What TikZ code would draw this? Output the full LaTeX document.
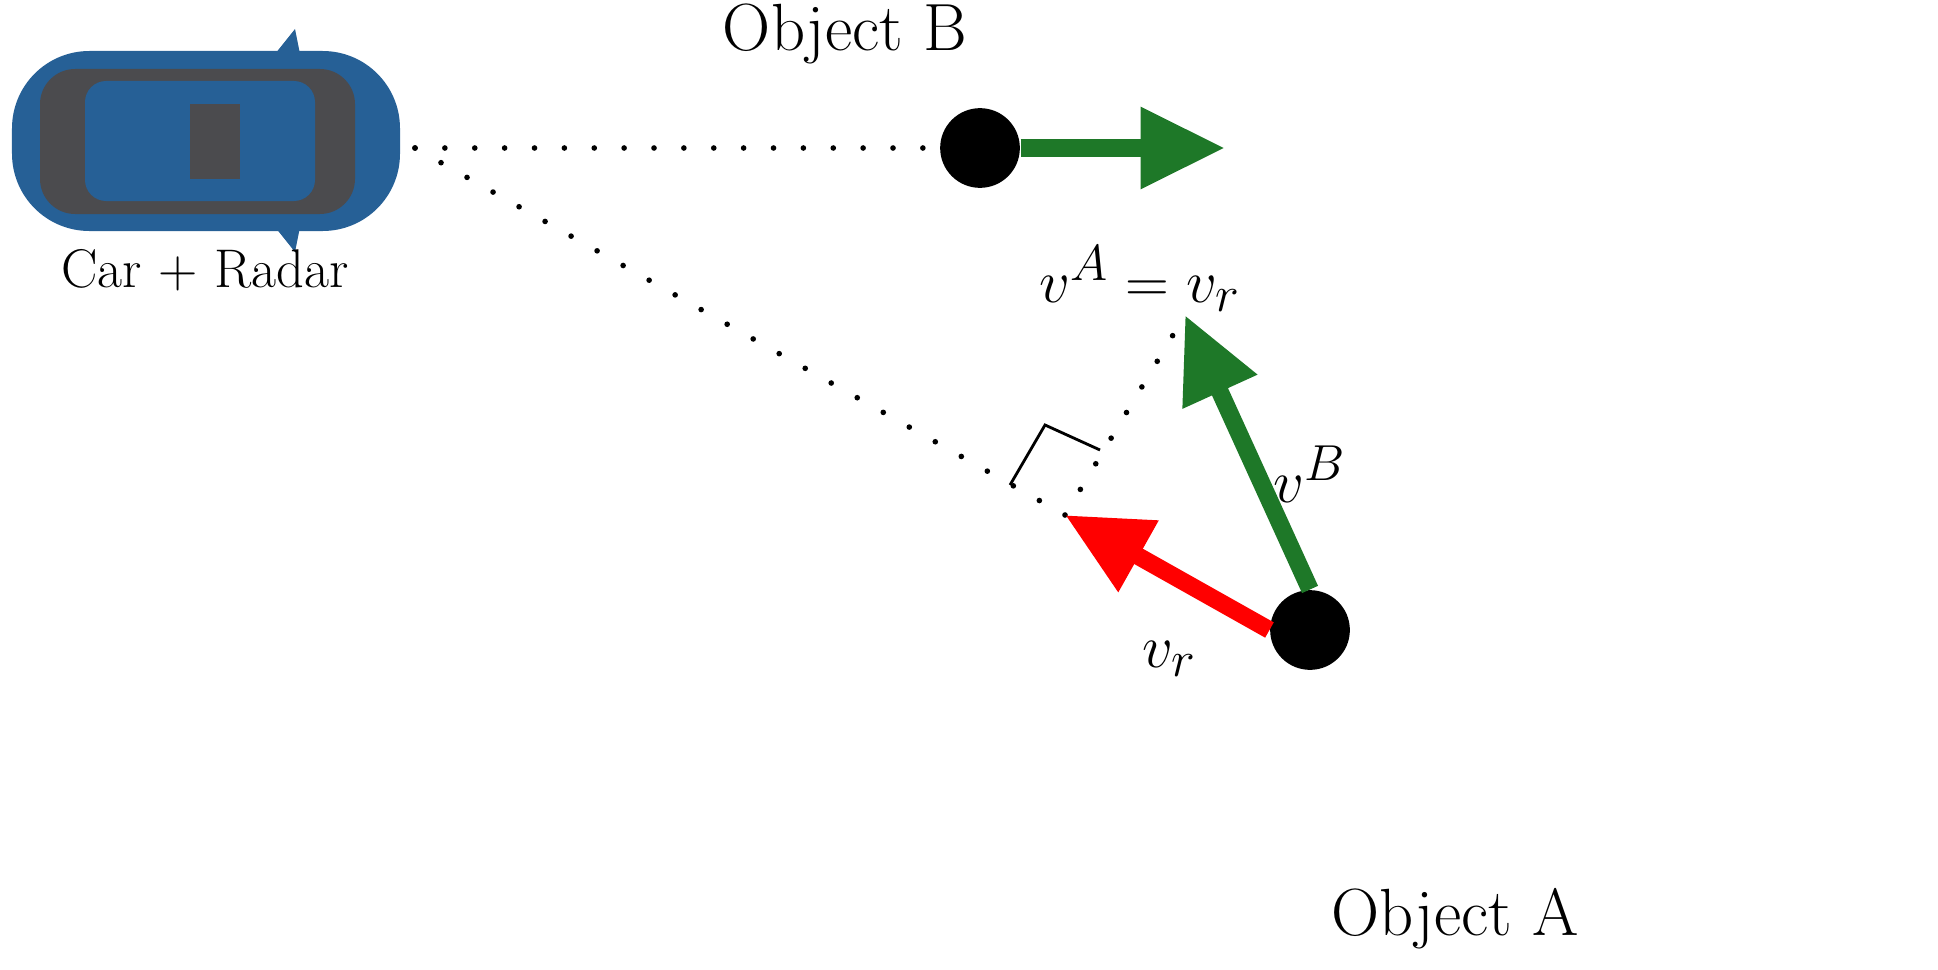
\documentclass[tikz,border=0pt]{standalone}
\usepackage{tikz}
\usetikzlibrary{positioning,arrows.meta}
\definecolor{carblue}{RGB}{38,96,150}
\definecolor{cargrey}{RGB}{75,75,78}
\definecolor{vgreen}{RGB}{30,120,40}
\tikzset{
  dotline/.style={line width=1.6pt, dash pattern=on 0pt off 8.5pt, line cap=round},
  vec/.style={line width=5pt, -{Triangle[length=24pt,width=22pt]}},
  obj/.style={circle, fill=black, minimum size=80pt*0.2835, inner sep=0pt},
  big/.style={font=\fontsize{19}{22}\selectfont},
}
\begin{document}
\begin{tikzpicture}[x=1cm,y=1cm]
    \useasboundingbox (0,0) rectangle (19.38,9.69);
    % Car
    \fill[carblue, rounded corners=22pt] (0.12,7.38) rectangle (4.0,9.18);
    \fill[cargrey, rounded corners=10pt] (0.4,7.55) rectangle (3.55,9.0);
    \fill[carblue, rounded corners=6pt] (0.85,7.68) rectangle (3.15,8.88);
    \fill[cargrey] (1.9,7.9) rectangle (2.4,8.65);
    \fill[carblue] (2.75,9.15) -- (2.95,9.4) -- (3.0,9.15) -- cycle;
    \fill[carblue] (2.75,7.42) -- (2.95,7.17) -- (3.0,7.42) -- cycle;
    \node (car) at (2.05,6.99) {\fontsize{15.5}{18}\selectfont Car + Radar};
    % Objects
    \coordinate (radar) at (4.15,8.21);
    \node[obj] (objB) at (9.8,8.21) {};
    \node[obj] (objA) at (13.1,3.39) {};
    \node[big] (labB) at (8.45,9.35) {Object B};
    \node[big] (labA) at (14.55,0.5) {Object A};
    \coordinate (foot) at (10.65,4.54);
    \coordinate (vbtip) at (11.85,6.54);
    \coordinate (vbend) at (12.25,8.21);
    % Dotted lines
    \draw[dotline] (radar) -- (objB.west);
    \draw[dotline] (radar) -- (foot);
    \draw[dotline] (foot) -- (vbtip);
    \draw[line width=0.8pt] (10.1,4.84) -- (10.45,5.44) -- (11.0,5.19);
    % Vectors
    \draw[vec, vgreen] (objB.east) -- (vbend);
    \draw[vec, vgreen] (objA.north) -- (vbtip);
    \draw[vec, red] (objA.west) -- (foot);
    % Labels
    \node[big] at (11.4,6.9) {$v^A = v_r$};
    \node[big] at (13.1,4.95) {$v^B$};
    \node[big] at (11.7,3.1) {$v_r$};
\end{tikzpicture}
\end{document}
